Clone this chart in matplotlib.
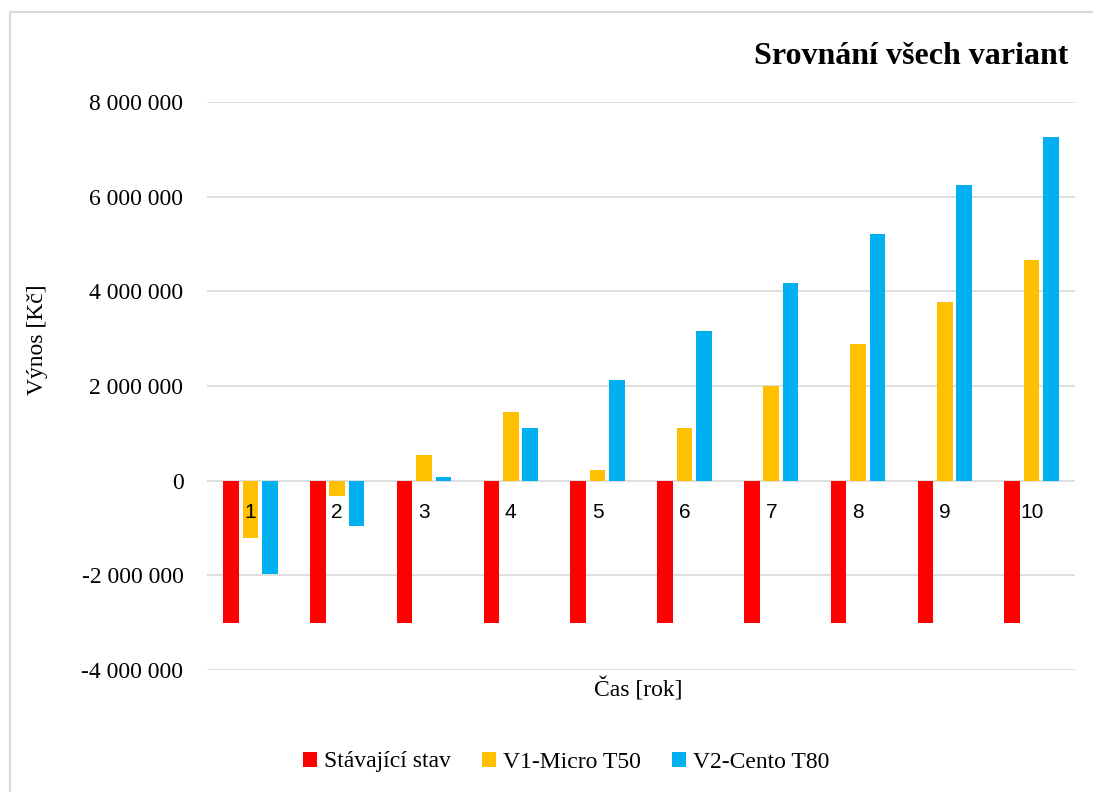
import matplotlib
matplotlib.use("Agg")
import matplotlib.pyplot as plt
import numpy as np
from matplotlib.patches import Rectangle
from matplotlib.ticker import FuncFormatter

years = [1, 2, 3, 4, 5, 6, 7, 8, 9, 10]
stavajici = [-3000000] * 10
v1_micro = [-1220000, -320000, 550000, 1460000, 230000, 1120000, 2000000, 2890000, 3780000, 4660000]
v2_cento = [-1980000, -950000, 80000, 1120000, 2130000, 3170000, 4180000, 5210000, 6250000, 7260000]
series_names = ["Stávající stav", "V1-Micro T50", "V2-Cento T80"]
colors = ["#FF0000", "#FFC000", "#00B0F0"]
yticks = [-4000000, -2000000, 0, 2000000, 4000000, 6000000, 8000000]

serif = ["Liberation Serif", "DejaVu Serif"]
sans = ["Liberation Sans", "DejaVu Sans"]

fig = plt.figure(figsize=(10.93, 7.92), dpi=100)
ax = fig.add_axes([207/1093, 1-670/792, (1075-207)/1093, (670-102)/792])

x = np.array(years, dtype=float)
w = 0.18
off = 0.224
for i, (vals, c, n) in enumerate(zip([stavajici, v1_micro, v2_cento], colors, series_names)):
    ax.bar(x + (i-1)*off, vals, width=w, color=c, label=n, zorder=3)

ax.set_xlim(0.5, 10.5)
ax.set_ylim(-4000000, 8000000)
ax.set_yticks(yticks)
ax.yaxis.set_major_formatter(FuncFormatter(lambda v, p: f"{int(v):,}".replace(",", " ")))
ax.grid(axis="y", color="#d9d9d9", linewidth=1.2, zorder=0)
ax.set_xticks([])
for s in ax.spines.values():
    s.set_visible(False)
ax.tick_params(axis="y", length=0, pad=17, labelsize=17)
for lbl in ax.get_yticklabels():
    lbl.set_family(serif)

# category labels just below zero line
for xi, yr in zip(x, years):
    ax.annotate(str(yr), xy=(xi, 0), xytext=(0, -23), textcoords="offset points",
                ha="center", va="center", fontsize=15, family=sans, zorder=5)

fig.text(38/1093, 1-340/792, "Výnos [Kč]", rotation=90, ha="center", va="center",
         fontsize=17, family=serif)
fig.text(638/1093, 1-690/792, "Čas [rok]", ha="center", va="center",
         fontsize=17, family=serif)
fig.text(1068/1093, 1-56/792, "Srovnání všech variant", ha="right", va="center",
         fontsize=23, fontweight="bold", family=serif)

handles, labels = ax.get_legend_handles_labels()
leg = fig.legend(handles, labels, loc="center", bbox_to_anchor=(566/1093, 1-762/792),
                 ncol=3, frameon=False, prop={"family": serif, "size": 17},
                 handlelength=0.6, handleheight=0.6, handletextpad=0.3, columnspacing=1.3)

fig.patches.append(Rectangle((10/1093, -0.05), 1.2, 1-12/792+0.05, transform=fig.transFigure,
                             fill=False, edgecolor="#d9d9d9", linewidth=1.5))

fig.savefig("out.png", dpi=100)
